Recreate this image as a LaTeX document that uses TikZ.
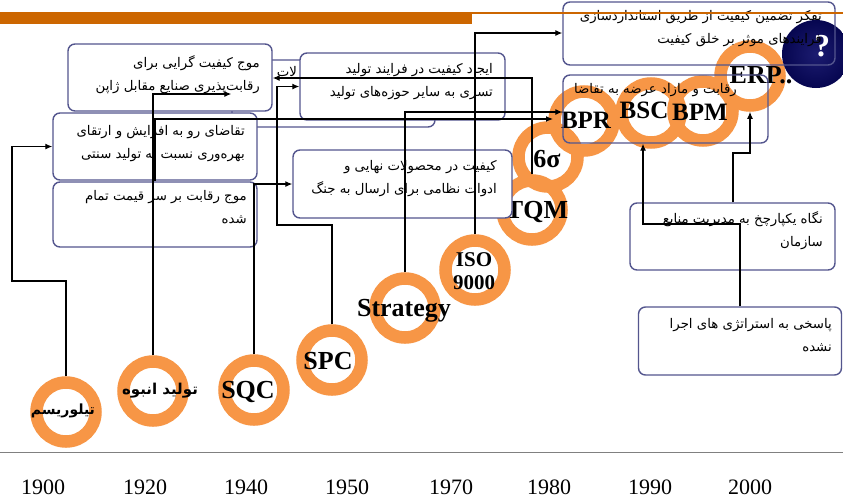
\documentclass[tikz,border=0pt]{standalone}
\usepackage{fontspec}
\setmainfont{Liberation Serif}
\newfontfamily\arabicfont[Script=Arabic]{DejaVu Sans}
\TeXXeTstate=1
\usetikzlibrary{arrows.meta}
\definecolor{ringor}{RGB}{247,150,70}
\definecolor{baror}{RGB}{204,102,0}
\definecolor{boxbl}{RGB}{84,86,142}
\definecolor{navyd}{RGB}{6,6,80}
\definecolor{navyl}{RGB}{28,28,112}
\newcommand{\fatxt}[1]{{\arabicfont\beginR #1\endR}}
\begin{document}
\begin{tikzpicture}[x=1pt,y=-1pt,
 ring/.style={circle,draw=ringor,line width=12.5pt,minimum size=59pt,inner sep=0pt},
 lbl/.style={font=\bfseries\fontsize{26}{26}\selectfont,inner sep=0pt,anchor=base},
 lbls/.style={font=\bfseries\fontsize{25}{25}\selectfont,inner sep=0pt,anchor=base},
 falbl/.style={font=\arabicfont\bfseries\fontsize{14}{14}\selectfont,inner sep=0pt},
 box/.style={draw=boxbl,line width=1.4pt,rounded corners=7pt,inner sep=0pt,fill=white},
 obox/.style={draw=boxbl,line width=1.4pt,rounded corners=7pt,inner sep=0pt},
 fa/.style={font=\fontsize{13.3}{23}\selectfont,align=right,inner sep=0pt,anchor=east},
 conn/.style={line width=1.2pt,black},
 arr/.style={conn,-{Latex[length=7pt,width=6pt]}},
 yr/.style={font=\fontsize{22}{22}\selectfont,inner sep=0pt,anchor=base}]
\useasboundingbox (0,0) rectangle (843,501);
\fill[white] (0,0) rectangle (843,501);
% top bar
\fill[baror] (0,12) rectangle (472,24);
% axis
\draw[gray,line width=1pt] (0,452) -- (843,452);
% years
\node[yr] (y1900) at (43,494) {1900};
\node[yr] (y1920) at (145,494) {1920};
\node[yr] (y1940) at (246,494) {1940};
\node[yr] (y1950) at (347,494) {1950};
\node[yr] (y1970) at (451,494) {1970};
\node[yr] (y1980) at (549,494) {1980};
\node[yr] (y1990) at (650,494) {1990};
\node[yr] (y2000) at (750,494) {2000};
% rings
\node[ring] (r1) at (66,412) {};
\node[ring] (r2) at (153,391) {};
\node[ring] (r3) at (254,390) {};
\node[ring] (r4) at (332,360) {};
\node[ring] (r5) at (405,308) {};
\node[ring] (r6) at (475,270) {};
\node[ring] (r7) at (532,210) {};
\node[ring] (r8) at (548,157) {};
\node[ring] (r9) at (584,121) {};
\node[ring] (r10) at (651,113) {};
\node[ring] (r11) at (703,111) {};
\node[ring] (r12) at (750,76) {};
% question circle
\node[circle,minimum size=68pt,inner sep=0pt,inner color=navyl,outer color=navyd] (qc) at (816,54) {};
\node[white,font=\bfseries\fontsize{32}{32}\selectfont,inner sep=0pt] (qm) at (822,46) {?};
% ring labels
\node[falbl] (l1) at (63,411) {\fatxt{تیلوریسم}};
\node[falbl,font=\arabicfont\bfseries\fontsize{15}{15}\selectfont] (l2) at (160,391) {\fatxt{تولید انبوه}};
\node[lbl] (l3) at (248,398) {SQC};
\node[lbl] (l4) at (328,369) {SPC};
\node[lbl] (l5) at (404,316) {Strategy};
\node[font=\bfseries\fontsize{21}{23}\selectfont,inner sep=0pt,align=center] (l6) at (474,271) {ISO\\9000};
\node[lbl] (l7) at (537,218) {TQM};
\node[lbl] (l8) at (547,167) {6σ};
\node[lbls] (l9) at (586,128) {BPR};
\node[lbls] (l10) at (644,118) {BSC};
\node[lbls] (l11) at (700,120) {BPM};
\node[lbl] (l12) at (761,83) {ERP..};
% boxes
\node[box,minimum width=203pt,minimum height=67pt] (b2) at (333.5,93.5) {};
\node[fa,anchor=center] (t2) at (287,72) {\fatxt{لات}};
\node[box,minimum width=204pt,minimum height=67pt] (b1) at (170,77.5) {};
\node[box,minimum width=205pt,minimum height=67pt] (b3) at (402.5,86.5) {};
\node[box,minimum width=204pt,minimum height=67pt] (b4) at (155,146.5) {};
\node[box,minimum width=204pt,minimum height=65pt] (b5) at (155,214.5) {};
\node[box,minimum width=219pt,minimum height=68pt] (b6) at (402.5,184) {};
\node[box,minimum width=205pt,minimum height=67pt] (b9) at (732.5,236.5) {};
\node[box,minimum width=203pt,minimum height=68pt] (b10) at (740,341) {};
\node[obox,minimum width=272pt,minimum height=63pt] (b7) at (699,33.5) {};
\node[obox,minimum width=205pt,minimum height=68pt] (b8) at (665.5,109) {};
% box texts
\node[fa] (t1) at (260,74.5) {\fatxt{موج کیفیت گرایی برای}\\\fatxt{رقابت‌پذیری صنایع مقابل ژاپن}};
\node[fa] (t3) at (493,81.5) {\fatxt{ایجاد کیفیت در فرایند تولید}\\\fatxt{تسری به سایر حوزه‌های تولید}};
\node[fa] (t4) at (245,143.5) {\fatxt{تقاضای رو به افزایش و ارتقای}\\\fatxt{بهره‌وری نسبت به تولید سنتی}};
\node[fa] (t5) at (247,207.5) {\fatxt{موج رقابت بر سر قیمت تمام}\\\fatxt{شده}};
\node[fa] (t6) at (497,178.5) {\fatxt{کیفیت در محصولات نهایی و}\\\fatxt{ادوات نظامی برای ارسال به جنگ}};
\node[fa] (t7) at (822,28.5) {\fatxt{تفکر تضمین کیفیت از طریق استانداردسازی}\\\fatxt{فرایندهای موثر بر خلق کیفیت}};
\node[fa] (t8) at (737,90) {\fatxt{رقابت و مازاد عرضه به تقاضا}};
\node[fa] (t9) at (823,231) {\fatxt{نگاه یکپارچخ به مدیریت منابع}\\\fatxt{سازمان}};
\node[fa] (t10) at (832,335) {\fatxt{پاسخی به استراتژی های اجرا}\\\fatxt{نشده}};
% connectors
\coordinate (a1) at (66,281);
\coordinate (a2) at (12,281);
\draw[arr] (r1.north) -- (a1) -- (a2) |- (b4.west);
\coordinate (bb) at (153,94);
\draw[arr] (r2.north) -- (bb) -- (bb -| b2.west);
\coordinate (cc) at (155,119);
\coordinate (cce) at (553,119);
\draw[arr] (b5.north) -- (cc) -- (cce);
\draw[arr] (r3.north) |- (b6.west);
\coordinate (e1) at (332,225);
\coordinate (e2) at (277,225);
\draw[arr] (r4.north) -- (e1) -- (e2) |- (b3.west);
\coordinate (f1) at (405,112);
\draw[arr] (r5.north) -- (f1) -- (f1 -| b8.west);
\coordinate (g1) at (475,33);
\draw[arr] (r6.north) -- (g1) -- (g1 -| b7.west);
\coordinate (h1) at (532,78);
\draw[arr] (r7.north) -- (h1) -- (h1 -| b1.east);
\coordinate (i1) at (740,224);
\coordinate (i2) at (643,224);
\draw[arr] (b10.north) -- (i1) -- (i2) -- (i2 |- b8.south);
\coordinate (j1) at (733,153);
\coordinate (j2) at (750,153);
\draw[arr] (b9.north -| j1) -- (j1) -- (j2) -- (r12.south);
% thin top line
\draw[baror,line width=1.5pt] (472,13) -- (843,13);
\end{tikzpicture}
\end{document}
